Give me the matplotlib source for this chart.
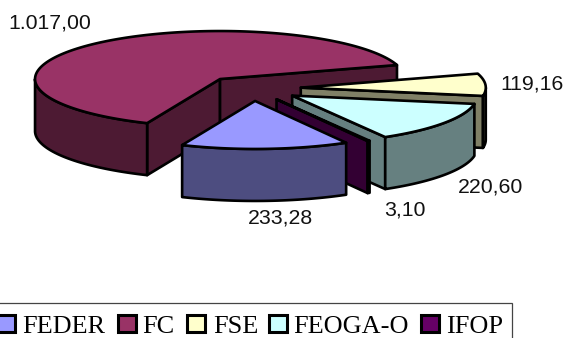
import numpy as np
import matplotlib
matplotlib.use('Agg')
import matplotlib.pyplot as plt
from matplotlib.patches import Polygon, Rectangle

# data
funds = ['FEDER', 'FC', 'FSE', 'FEOGA-O', 'IFOP']
values = [233.28, 1017.00, 119.16, 220.60, 3.10]

top_colors = ['#9999FF', '#993366', '#FFFFCC', '#CCFFFF', '#660066']
wall_colors = ['#4D4D80', '#4D1A33', '#808066', '#668080', '#330033']

# pie geometry, in pixels
cx, cy = 252.4, 88.4
rx, ry = 185, 48
depth = 52
explode = 0.262
start = 60.5  # degrees, clockwise on screen

label_pos = [(280, 218), (49.5, 23), (532.5, 84), (490.5, 187), (405, 210)]
legend_swatch_x = [-3, 118, 187, 269, 421]
legend_text_x = [22, 142, 213, 293, 446]


def fmt(v):
    s = f'{v:,.2f}'
    return s.replace(',', 'X').replace('.', ',').replace('X', '.')


def rim(x0, y0, t0, t1):
    t = np.radians(np.linspace(t0, t1, max(int(abs(t1 - t0)) * 2, 2)))
    return np.column_stack([x0 + rx * np.cos(t), y0 + ry * np.sin(t)])


def poly(pts, color):
    ax.add_patch(Polygon(pts, closed=True, facecolor=color, edgecolor='black',
                         linewidth=1.9, joinstyle='round'))


fig = plt.figure(figsize=(5.65, 3.38), dpi=100)
ax = fig.add_axes([0, 0, 1, 1])
ax.set_xlim(0, 565)
ax.set_ylim(338, 0)
ax.axis('off')

# angular range of each slice
total = sum(values)
spans = [v / total * 360 for v in values]
ranges = []
a = start
for s in spans:
    ranges.append((a, a + s))
    a += s

# back to front
for i in [1, 2, 3, 4, 0]:
    t0, t1 = ranges[i]
    mid = np.radians((t0 + t1) / 2)
    x0 = cx + explode * rx * np.cos(mid)
    y0 = cy + explode * ry * np.sin(mid)
    apex = np.array([[x0, y0]])
    down = np.array([0, depth])

    start_pt = rim(x0, y0, t0, t0)[:1]
    end_pt = rim(x0, y0, t1, t1)[:1]

    # cut walls that face the viewer
    if i == 1:
        poly(np.vstack([apex, start_pt, start_pt + down, apex + down]), wall_colors[i])
    if i != 0:
        poly(np.vstack([apex, end_pt, end_pt + down, apex + down]), wall_colors[i])

    # outer wall, only the part on the front half of the ellipse
    for k in range(-1, 2):
        lo = max(t0, k * 360)
        hi = min(t1, k * 360 + 180)
        if hi > lo:
            edge = rim(x0, y0, lo, hi)
            poly(np.vstack([edge, edge[::-1] + down]), wall_colors[i])

    # top face
    poly(np.vstack([apex, rim(x0, y0, t0, t1)]), top_colors[i])

    ax.text(label_pos[i][0], label_pos[i][1], fmt(values[i]), ha='center', va='center',
            fontsize=15.3, family='Liberation Sans', color='#111111')

# legend box, runs off the bottom and left of the figure
ax.add_patch(Rectangle((-5, 302.5), 517, 50, facecolor='white', edgecolor='#444444',
                       linewidth=0.9))
for name, color, sx, tx in zip(funds, top_colors, legend_swatch_x, legend_text_x):
    ax.add_patch(Rectangle((sx, 315), 17.5, 17, facecolor=color, edgecolor='black',
                           linewidth=2.2))
    ax.text(tx, 333, name, ha='left', va='baseline', fontsize=18.9,
            family='Liberation Serif', color='black')

fig.savefig('out.png', dpi=100)
